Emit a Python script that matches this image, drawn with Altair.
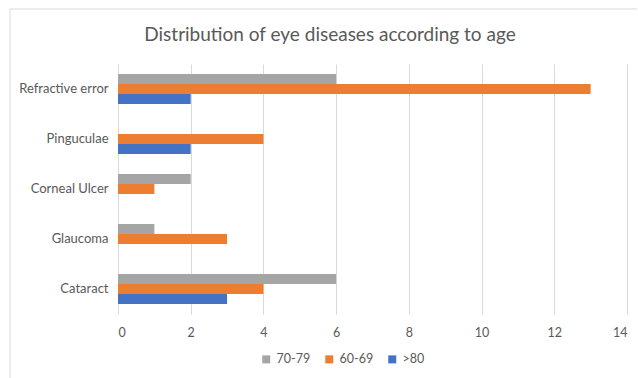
import altair as alt
import pandas as pd

categories = ["Refractive error", "Pinguculae", "Corneal Ulcer", "Glaucoma", "Cataract"]
series = ["70-79", "60-69", ">80"]
colors = ["#a5a5a5", "#ed7d31", "#4472c4"]
v_70_79 = [6, 0, 2, 1, 6]
v_60_69 = [13, 4, 1, 3, 4]
v_80 = [2, 2, 0, 0, 3]
title_text = "Distribution of eye diseases according to age"

rows = []
for s, vals in zip(series, [v_70_79, v_60_69, v_80]):
    for c, v in zip(categories, vals):
        rows.append({"Disease": c, "Age": s, "Count": v})
df = pd.DataFrame(rows)

FONT = "Lato"

bars = alt.Chart(df).mark_bar().encode(
    y=alt.Y("Disease:N", sort=categories, title=None,
            scale=alt.Scale(paddingInner=0.4, paddingOuter=0.2),
            axis=alt.Axis(ticks=False, domain=False, labelPadding=10,
                          labelFontSize=13, labelColor="#595959", labelFont=FONT)),
    yOffset=alt.YOffset("Age:N", sort=series, scale=alt.Scale(paddingInner=0, paddingOuter=0)),
    x=alt.X("Count:Q", title=None,
            scale=alt.Scale(domain=[0, 14], nice=False),
            axis=alt.Axis(values=[0, 2, 4, 6, 8, 10, 12, 14], ticks=False, domain=False,
                          labelPadding=12, labelFontSize=12.5, labelColor="#595959",
                          labelFont=FONT, gridColor="#d9d9d9", format="d")),
    color=alt.Color("Age:N", sort=series,
                    scale=alt.Scale(domain=series, range=colors),
                    legend=alt.Legend(title=None, orient="none", direction="horizontal",
                                      legendX=142, legendY=289, symbolType="square",
                                      symbolSize=64, symbolStrokeWidth=0,
                                      labelFontSize=12.5, labelColor="#595959",
                                      labelFont=FONT, columnPadding=12, symbolOffset=0)),
)

one = pd.DataFrame({"t": [title_text]})
border = alt.Chart(one).mark_rule(color="#d9d9d9", strokeWidth=1).encode(
    x=alt.value(-108), x2=alt.value(519), y=alt.value(-55)
)
border2 = alt.Chart(one).mark_rule(color="#d9d9d9", strokeWidth=1).encode(
    x=alt.value(-108), y=alt.value(-55), y2=alt.value(320)
)
title = alt.Chart(one).mark_text(font=FONT, fontSize=19, color="#595959",
                                 align="center", baseline="middle").encode(
    text="t:N", x=alt.value(212), y=alt.value(-29)
)

chart = alt.layer(border, border2, title, bars).properties(
    width=509, height=250,
    autosize=alt.AutoSizeParams(type="none"),
    padding={"left": 118, "top": 64, "right": 11, "bottom": 64},
    background="white",
).configure_view(stroke=None)

chart.save("out.html", embed_options={"renderer": "svg", "actions": False})
